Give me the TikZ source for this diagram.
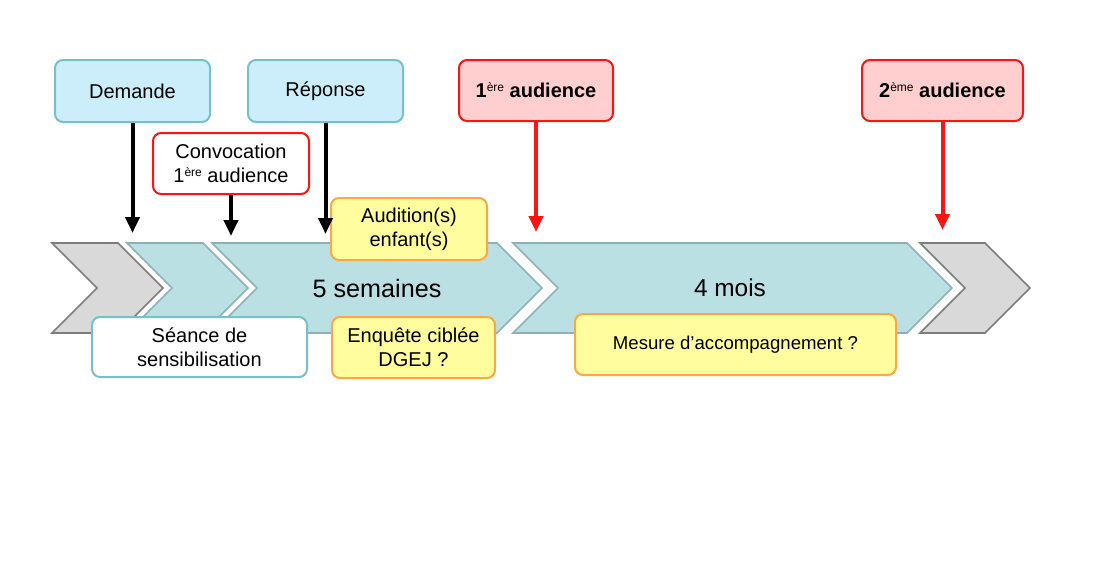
\documentclass[tikz,border=0pt]{standalone}
\usepackage{fontspec}
\setmainfont{Liberation Sans}
\usepackage{tikz}
\usetikzlibrary{arrows.meta, positioning}
\definecolor{boxblue}{RGB}{204,238,250}
\definecolor{tealline}{RGB}{118,192,202}
\definecolor{boxred}{RGB}{255,206,206}
\definecolor{linered}{RGB}{250,20,20}
\definecolor{boxyellow}{RGB}{255,253,158}
\definecolor{lineorange}{RGB}{250,168,70}
\definecolor{chevteal}{RGB}{186,224,228}
\definecolor{chevtealline}{RGB}{140,178,182}
\definecolor{chevgray}{RGB}{217,217,217}
\definecolor{chevgrayline}{RGB}{125,125,125}
\newcommand{\expo}[1]{\raisebox{0.55ex}{\fontsize{6}{7}\selectfont\mdseries #1}}
\tikzstyle{step1} = [rectangle, rounded corners=4pt, inner sep=0pt, align=center, line width=1pt, minimum height=31pt, font=\fontsize{10}{12}\selectfont]
\tikzstyle{request} = [step1, draw=tealline, fill=boxblue, minimum width=77.5pt]
\tikzstyle{hearing} = [step1, draw=linered, fill=boxred, minimum width=77pt, minimum height=30.5pt, font=\fontsize{10}{12}\selectfont\bfseries]
\tikzstyle{notice} = [step1, draw=linered, fill=white, minimum width=78pt, minimum height=30.5pt]
\tikzstyle{session} = [step1, draw=tealline, fill=white, minimum width=107.5pt, minimum height=30pt]
\tikzstyle{option} = [step1, draw=lineorange, fill=boxyellow, minimum width=78pt]
\tikzstyle{chevt} = [draw=chevtealline, fill=chevteal, line width=0.8pt, line join=miter]
\tikzstyle{chevg} = [draw=chevgrayline, fill=chevgray, line width=0.8pt, line join=miter]
\tikzstyle{arrowk} = [line width=2pt, -{Triangle[width=7pt,length=8pt]}]
\tikzstyle{arrowr} = [arrowk, draw=linered, fill=linered]
\newcommand{\tlchevron}[3]{\draw[#3] (#1,243) -- (#2,243) -- ++(45,45) -- (#2,333) -- (#1,333) -- ++(45,-45) -- cycle;}
\begin{document}
\begin{tikzpicture}[x=0.5pt, y=-0.5pt]
            \useasboundingbox (0,0) rectangle (1094,575);

            % Timeline
            \tlchevron{52}{118}{chevg}
            \tlchevron{127}{203}{chevt}
            \tlchevron{212}{497}{chevt}
            \tlchevron{513}{907}{chevt}
            \tlchevron{920}{985}{chevg}
            \node (weeks) at (377,288) {\fontsize{12.6}{15}\selectfont 5 semaines};
            \node (months) at (730,288) {\fontsize{12.2}{15}\selectfont 4 mois};

            % Place nodes
            \node (demande) [request] at (132.5,91) {Demande};
            \node (reponse) [request] at (325.5,91) {Réponse};
            \node (convoc) [notice] at (231,163.5) {Convocation\\1\expo{ère} audience};
            \node (aud1) [hearing] at (536,90.5) {1\expo{ère} audience};
            \node (aud2) [hearing, minimum width=80.5pt] at (942.5,90.5) {2\expo{ème} audience};
            \node (audition) [option] at (409,229) {Audition(s)\\enfant(s)};
            \node (seance) [session] at (199.5,347) {Séance de\\sensibilisation};
            \node (enquete) [option, minimum width=81.5pt, minimum height=30.5pt] at (413.5,347.5) {Enquête ciblée\\DGEJ ?};
            \node (mesure) [option, minimum width=160.5pt, minimum height=30.5pt, font=\fontsize{9.3}{11}\selectfont] at (735.5,344.5) {Mesure d’accompagnement ?};

            % Arrow ends on the timeline
            \coordinate (tdemande) at (132.5,233);
            \coordinate (tconvoc) at (231,236);
            \coordinate (treponse) at (325.5,234);
            \coordinate (taud1) at (536,232);
            \coordinate (taud2) at (942.5,230);

            % Draw edges
            \draw [arrowk] (demande) -- (tdemande);
            \draw [arrowk] (convoc) -- (tconvoc);
            \draw [arrowk] (reponse) -- (treponse);
            \draw [arrowr] (aud1) -- (taud1);
            \draw [arrowr] (aud2) -- (taud2);
        \end{tikzpicture}
\end{document}
